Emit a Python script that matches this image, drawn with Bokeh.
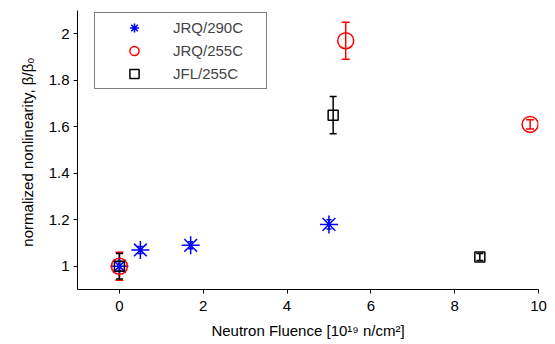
from bokeh.plotting import figure
from bokeh.models import ColumnDataSource, Whisker, TeeHead, Legend, LegendItem, Range1d, FixedTicker
from bokeh.embed import file_html
from bokeh.resources import INLINE

# JRQ/290C
x_290 = [0.0, 0.5, 1.7, 5.0]
y_290 = [1.0, 1.07, 1.09, 1.18]
e_290 = [0.02, 0.015, 0.015, 0.02]
# JRQ/255C
x_rq255 = [0.0, 5.4, 9.8]
y_rq255 = [1.0, 1.97, 1.61]
e_rq255 = [0.06, 0.08, 0.02]
# JFL/255C
x_fl255 = [0.0, 5.1, 8.6]
y_fl255 = [1.0, 1.65, 1.04]
e_fl255 = [0.055, 0.08, 0.015]

x_ticks = [0, 2, 4, 6, 8, 10]
y_ticks = [1.0, 1.2, 1.4, 1.6, 1.8, 2.0]

FONT = "Liberation Sans"

p = figure(width=555, height=344, output_backend="svg", toolbar_location=None,
           x_range=Range1d(-1, 10), y_range=Range1d(0.9, 2.1),
           min_border_left=77, min_border_right=17, min_border_top=10, min_border_bottom=55)
p.outline_line_color = None
p.grid.visible = False
p.background_fill_color = "white"
p.border_fill_color = "white"

for ax in (p.xaxis[0], p.yaxis[0]):
    ax.axis_line_color = "black"
    ax.axis_line_width = 1
    ax.major_tick_line_color = "black"
    ax.major_tick_out = 4
    ax.major_tick_in = 0
    ax.minor_tick_line_color = None
    ax.major_label_text_font = FONT
    ax.major_label_text_font_size = "15px"
    ax.major_label_text_color = "black"
    ax.axis_label_text_font = FONT
    ax.axis_label_text_font_size = "15px"
    ax.axis_label_text_font_style = "normal"
    ax.axis_label_text_color = "black"

p.xaxis.ticker = FixedTicker(ticks=x_ticks)
p.yaxis.ticker = FixedTicker(ticks=y_ticks)
p.yaxis.major_label_overrides = {1.0: "1", 2.0: "2"}
p.xaxis.major_label_standoff = 7
p.yaxis.major_label_standoff = 4
p.xaxis.axis_label = "Neutron Fluence [10\u00b9\u2079 n/cm\u00b2]"
p.yaxis.axis_label = "normalized nonlinearity,  \u03b2/\u03b2\u2080"
p.xaxis.axis_label_standoff = 8
p.yaxis.axis_label_standoff = 10

def series(xs, ys, es, color, marker, size, cap):
    src = ColumnDataSource(dict(x=xs, y=ys, up=[a + b for a, b in zip(ys, es)],
                                lo=[a - b for a, b in zip(ys, es)]))
    w = Whisker(source=src, base="x", upper="up", lower="lo", dimension="height",
                line_color=color, line_width=1.5,
                upper_head=TeeHead(size=cap, line_color=color, line_width=1.5),
                lower_head=TeeHead(size=cap, line_color=color, line_width=1.5))
    p.add_layout(w)
    r = p.scatter("x", "y", source=src, marker=marker, size=size, fill_color=None,
                  line_color=color, line_width=1.5)
    return r

r1 = series(x_290, y_290, e_290, "#0000ff", "asterisk", 18, 5)
r2 = series(x_rq255, y_rq255, e_rq255, "#ff0000", "circle", 16, 8)
r3 = series(x_fl255, y_fl255, e_fl255, "black", "square", 10, 7)

legend = Legend(items=[LegendItem(label="JRQ/290C", renderers=[r1]),
                       LegendItem(label="JRQ/255C", renderers=[r2]),
                       LegendItem(label="JFL/255C", renderers=[r3])],
                location=(17, 200), orientation="vertical",
                border_line_color="black", border_line_width=1,
                background_fill_color="white", background_fill_alpha=1,
                label_text_font=FONT, label_text_font_size="15px",
                padding=3, spacing=0, glyph_width=72, glyph_height=23,
                label_height=23, label_standoff=3, label_width=90, margin=0)
p.add_layout(legend, "center")

open("out.html", "w").write(file_html(p, INLINE))
